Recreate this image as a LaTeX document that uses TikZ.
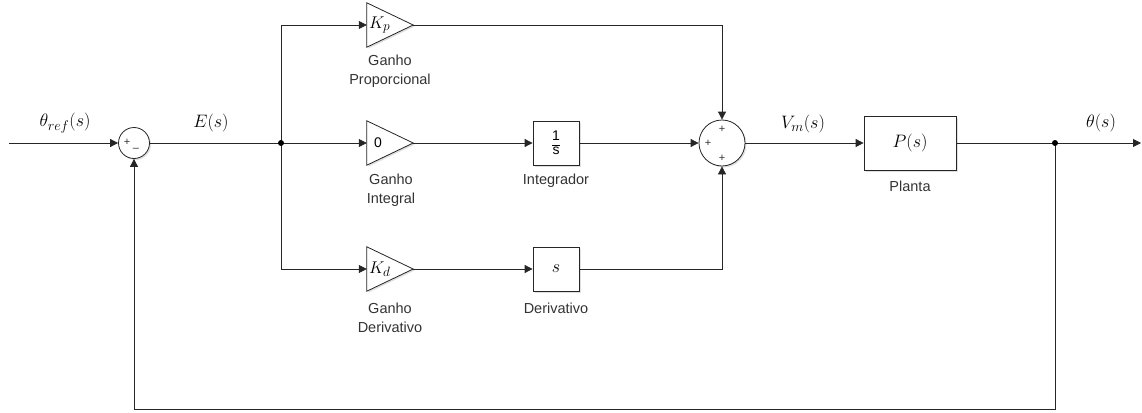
\RequirePackage{fix-cm}
\documentclass[tikz,border=0pt]{standalone}
\usepackage{fontspec}
\setmainfont{Liberation Sans}
\DeclareMathSizes{18}{18}{14}{11}
\DeclareMathSizes{17}{17}{13.5}{10}
\usetikzlibrary{arrows.meta,shadows}
\tikzset{
  wire/.style={draw=black!85, line width=0.8pt},
  arr/.style={wire, -{Triangle[length=8pt,width=8pt]}},
  shad/.style={drop shadow={opacity=0.25, shadow xshift=1.5pt, shadow yshift=-1.5pt}},
  blk/.style={draw=black!85, line width=0.8pt, fill=white, shad, minimum width=46pt, minimum height=44pt, inner sep=0pt},
  gain/.style={minimum width=46pt, minimum height=44pt, inner sep=0pt},
  tri/.style={draw=black!85, line width=0.8pt, fill=white, shad},
  sumc/.style={circle, draw=black!85, line width=0.8pt, fill=white, shad, inner sep=0pt},
  lbl/.style={font=\fontsize{14.5}{19}\selectfont, align=center, text=black!80},
  sig/.style={font=\fontsize{18}{20}\selectfont},
  pm/.style={font=\fontsize{11}{11}\selectfont, inner sep=0pt, text=black!80},
  dot/.style={circle, fill=black, inner sep=0pt, minimum size=6pt}
}
\begin{document}
\begin{tikzpicture}[x=1pt,y=-1pt]
\useasboundingbox (0,0) rectangle (1142,412);
% blocks
\node[sumc, minimum size=31pt] (s1) at (134,143) {};
\node[gain] (kp) at (390,25) {};
\node[gain] (ki) at (390,143) {};
\node[gain] (kd) at (390,269) {};
\node[blk] (int) at (556,143) {$\displaystyle\frac{\mbox{\fontsize{14}{14}\selectfont 1}}{\mbox{\fontsize{14}{14}\selectfont s}}$};
\node[blk, font=\fontsize{18}{20}\selectfont] (der) at (556,269) {$s$};
\node[sumc, minimum size=46pt] (s2) at (722,143) {};
\node[blk, minimum width=92pt, minimum height=54pt, font=\fontsize{18}{20}\selectfont] (pl) at (910,143) {$P(s)$};
% triangles
\draw[tri] (kp.north west) -- (kp.east) -- (kp.south west) -- cycle;
\draw[tri] (ki.north west) -- (ki.east) -- (ki.south west) -- cycle;
\draw[tri] (kd.north west) -- (kd.east) -- (kd.south west) -- cycle;
\node[anchor=west, inner sep=0pt, font=\fontsize{17}{19}\selectfont] (kpt) at ([xshift=2pt]kp.west) {$K_p$};
\node[anchor=west, inner sep=0pt, font=\fontsize{14}{16}\selectfont] (kit) at ([xshift=7pt]ki.west) {0};
\node[anchor=west, inner sep=0pt, font=\fontsize{17}{19}\selectfont] (kdt) at ([xshift=2pt]kd.west) {$K_d$};
% signs
\node[pm] (p1) at (127,142) {+};
\node[pm] (m1) at (136,150) {--};
\node[pm] (p2) at (722,129) {+};
\node[pm] (p3) at (708,143) {+};
\node[pm] (p4) at (722,158) {+};
% coordinates
\coordinate (in) at (9,143);
\coordinate (br) at (281,143);
\coordinate (bo) at (1055,143);
\coordinate (out) at (1141,143);
\coordinate (fb1) at (1055,409);
\coordinate (fb2) at (134,409);
% wires
\draw[arr] (in) -- (s1.west);
\draw[wire] (s1.east) -- (br);
\draw[wire] (kp.west -| br) -- (kd.west -| br);
\draw[arr] (kp.west -| br) -- (kp.west);
\draw[arr] (br) -- (ki.west);
\draw[arr] (kd.west -| br) -- (kd.west);
\draw[arr] (kp.east) -| (s2.north);
\draw[arr] (ki.east) -- (int.west);
\draw[arr] (int.east) -- (s2.west);
\draw[arr] (kd.east) -- (der.west);
\draw[arr] (der.east) -| (s2.south);
\draw[arr] (s2.east) -- (pl.west);
\draw[arr] (pl.east) -- (out);
\draw[arr] (bo) -- (fb1) -- (fb2) -- (s1.south);
\node[dot] (d1) at (br) {};
\node[dot] (d2) at (bo) {};
% signal labels
\node[sig] (lref) at (65,123) {$\theta_{ref}(s)$};
\node[sig] (le) at (211,123) {$E(s)$};
\node[sig] (lvm) at (803,124) {$V_m(s)$};
\node[sig] (lth) at (1101,123) {$\theta(s)$};
% block labels
\node[lbl] (lkp) at (390,71) {Ganho\\Proporcional};
\node[lbl] (lki) at (391,190) {Ganho\\Integral};
\node[lbl] (lint) at (556,181) {Integrador};
\node[lbl] (lkd) at (390,318) {Ganho\\Derivativo};
\node[lbl] (lder) at (556,308) {Derivativo};
\node[lbl] (lpl) at (910,186) {Planta};
\end{tikzpicture}
\end{document}
